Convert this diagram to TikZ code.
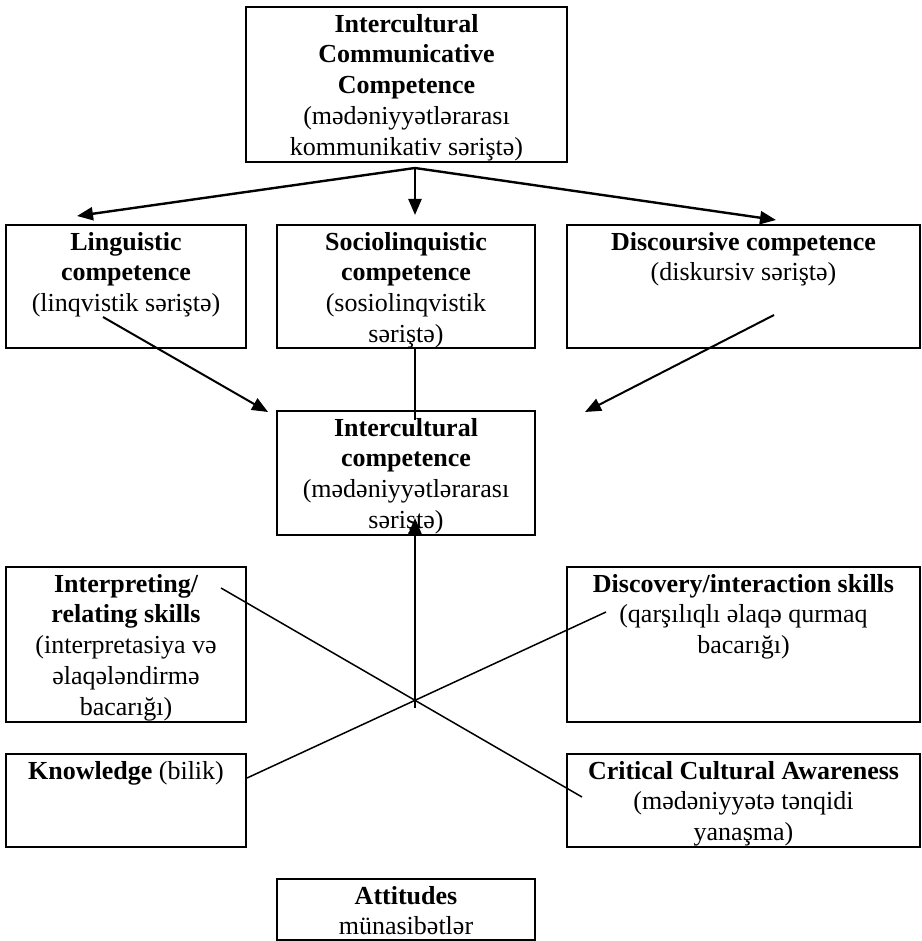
\documentclass[tikz,border=0pt]{standalone}
\usepackage{fontspec}
\setmainfont{Liberation Serif}
\usetikzlibrary{arrows.meta}
\newcommand{\cell}[3]{\parbox[t][#2pt][t]{#1pt}{\centering\vspace*{7pt}#3}}

\begin{document}
\begin{tikzpicture}[x=1pt,y=-1pt,font=\fontsize{26}{30.8}\selectfont,every node/.style={draw,line width=2pt,anchor=north west,inner sep=0pt},link/.style={line width=1.5pt},arrow/.style={line width=2pt,-{Triangle[length=16pt,width=13pt]}}]
\fill[white] (0,0) rectangle (921,941);
\node(top) at (245,6) {\cell{321}{155}{{\bfseries Intercultural\\Communicative\\Competence}\\(mədəniyyətlərarası\\kommunikativ səriştə)}};
\node(ling) at (5,224) {\cell{240}{123}{{\bfseries Linguistic\\competence}\\(linqvistik səriştə)}};
\node(socio) at (276,224) {\cell{258}{123}{{\bfseries Sociolinquistic\\competence}\\(sosiolinqvistik\\səriştə)}};
\node(disc) at (566,224) {\cell{353}{123}{{\bfseries Discoursive competence}\\(diskursiv səriştə)}};
\node(ic) at (276,410) {\cell{258}{124}{{\bfseries Intercultural\\competence}\\(mədəniyyətlərarası\\səriştə)}};
\node(interp) at (5,566) {\cell{240}{155}{{\bfseries Interpreting/\\relating skills}\\(interpretasiya və\\əlaqələndirmə\\bacarığı)}};
\node(discov) at (566,566) {\cell{353}{155}{{\bfseries Discovery/interaction skills}\\(qarşılıqlı əlaqə qurmaq\\bacarığı)}};
\node(know) at (5,753) {\cell{240}{93}{{\bfseries Knowledge} (bilik)}};
\node(crit) at (566,753) {\cell{353}{93}{{\bfseries Critical Cultural Awareness}\\(mədəniyyətə tənqidi\\yanaşma)}};
\node(att) at (276,878) {\cell{258}{61}{{\bfseries Attitudes}\\münasibətlər}};
% free ends of the connectors
\coordinate (fork) at (415,168);
\coordinate (lingtip) at (77,216);
\coordinate (sociotip) at (415,215);
\coordinate (disctip) at (776,220);
\coordinate (lingout) at (103,317);
\coordinate (lingin) at (268,412);
\coordinate (discout) at (774,315);
\coordinate (discin) at (585,412);
\coordinate (sociout) at (415,347);
\coordinate (socioin) at (415,420);
\coordinate (cross) at (415,708);
\coordinate (icin) at (415,518);
\coordinate (interpout) at (221,588);
\coordinate (critin) at (582,797);
\coordinate (knowout) at (247,778);
\coordinate (discovin) at (606,612);
\draw[arrow,line width=2.4pt] (fork) -- (lingtip);
\draw[arrow,line width=2.4pt] (fork) -- (sociotip);
\draw[arrow,line width=2.4pt] (fork) -- (disctip);
\draw[arrow] (lingout) -- (lingin);
\draw[arrow] (discout) -- (discin);
\draw[link] (sociout) -- (socioin);
\draw[arrow] (cross) -- (icin);
\draw[link] (interpout) -- (critin);
\draw[link] (knowout) -- (discovin);
\end{tikzpicture}
\end{document}
